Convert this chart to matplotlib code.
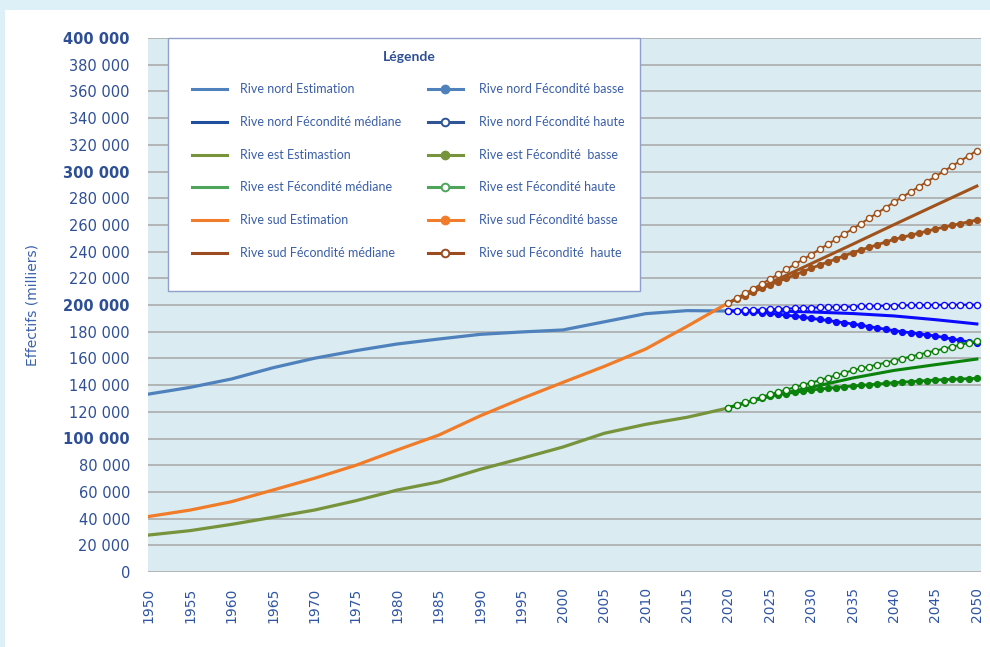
import numpy as np
import matplotlib.pyplot as plt
from matplotlib.lines import Line2D
from matplotlib.patches import Rectangle

# estimations (milliers), every 5 years
years_est = [1950, 1955, 1960, 1965, 1970, 1975, 1980, 1985, 1990, 1995, 2000, 2005, 2010, 2015, 2020]
nord_est = [133.3, 138.3, 144.6, 153.0, 160.1, 165.8, 170.8, 174.5, 178.0, 179.8, 181.3, 187.4, 193.5, 195.8, 195.5]
est_est = [27.7, 31.0, 35.7, 41.0, 46.4, 53.4, 61.4, 67.5, 76.9, 85.1, 93.6, 103.9, 110.6, 115.9, 122.9]
sud_est = [41.6, 46.4, 52.7, 61.4, 70.2, 79.9, 91.4, 102.5, 116.9, 129.8, 142.0, 154.0, 167.0, 184.0, 201.7]

# projections, median scenario (lines only)
years_med = [2020, 2025, 2030, 2035, 2040, 2045, 2050]
nord_med = [195.5, 195.6, 194.8, 193.6, 191.8, 189.0, 185.8]
est_med = [123.1, 131.8, 138.3, 145.3, 151.0, 155.3, 159.5]
sud_med = [201.7, 216.5, 231.0, 245.5, 260.2, 274.7, 289.1]

# projections, low / high fertility (yearly markers)
years_proj = list(range(2020, 2051))
nord_basse = [195.5, 195.3, 195.0, 194.7, 194.3, 193.8, 193.1, 192.4, 191.6, 190.8, 190.0,
              189.2, 188.4, 187.5, 186.7, 185.8, 184.8, 183.8, 182.8, 181.8, 180.8,
              180.0, 179.2, 178.4, 177.6, 176.8, 175.7, 174.6, 173.5, 172.4, 171.3]
nord_haute = [195.5, 195.8, 196.0, 196.3, 196.5, 196.8, 197.0, 197.3, 197.5, 197.8, 198.0,
              198.2, 198.3, 198.5, 198.6, 198.8, 199.0, 199.1, 199.3, 199.4, 199.6,
              199.7, 199.8, 199.9, 200.0, 200.1, 200.1, 200.2, 200.2, 200.2, 200.2]
est_basse = [123.1, 125.0, 126.8, 128.5, 130.1, 131.5, 132.6, 133.6, 134.6, 135.5, 136.3,
             137.0, 137.6, 138.2, 138.8, 139.3, 139.8, 140.3, 140.8, 141.3, 141.8,
             142.2, 142.6, 143.0, 143.4, 143.8, 144.1, 144.3, 144.6, 144.8, 145.1]
est_haute = [123.1, 125.1, 127.1, 129.1, 131.1, 133.1, 134.8, 136.6, 138.3, 140.1, 141.8,
             143.6, 145.5, 147.3, 149.2, 151.0, 152.5, 153.9, 155.4, 156.8, 158.3,
             159.8, 161.3, 162.8, 164.3, 165.8, 167.2, 168.7, 170.1, 171.6, 173.0]
sud_basse = [201.7, 204.4, 207.1, 209.7, 212.4, 215.0, 217.5, 220.0, 222.5, 225.0, 227.5,
             229.9, 232.2, 234.6, 236.9, 239.2, 241.2, 243.2, 245.2, 247.2, 249.2,
             250.7, 252.3, 253.8, 255.4, 256.9, 258.3, 259.6, 261.0, 262.3, 263.7]
sud_haute = [201.7, 205.2, 208.7, 212.2, 215.8, 219.3, 223.0, 226.7, 230.4, 234.1, 237.8,
             241.6, 245.5, 249.3, 253.2, 257.0, 261.0, 265.0, 269.0, 273.0, 277.0,
             280.9, 284.7, 288.6, 292.4, 296.3, 300.2, 304.0, 307.9, 311.7, 315.6]

labels_left = ['Rive nord Estimation', 'Rive nord Fécondité médiane', 'Rive est Estimastion',
               'Rive est Fécondité médiane', 'Rive sud Estimation', 'Rive sud Fécondité médiane']
labels_right = ['Rive nord Fécondité basse', 'Rive nord Fécondité haute', 'Rive est Fécondité  basse',
                'Rive est Fécondité haute', 'Rive sud Fécondité basse', 'Rive sud Fécondité  haute']
colors_left = ['#4f81bd', '#1f4e9c', '#77933c', '#4ea45a', '#f07c2c', '#9c4a1f']
colors_right = ['#4f81bd', '#2f5597', '#77933c', '#4ea45a', '#f07c2c', '#9c4a1f']

c_nord, c_est, c_sud = '#4f81bd', '#77933c', '#f07c2a'
c_nord_p, c_est_p, c_sud_p = '#0a0aff', '#0b820b', '#a0521c'
txt_blue = '#2e4f96'

fig = plt.figure(figsize=(9.9, 6.47), dpi=100, facecolor='#ddf0f8')
fig.add_artist(Rectangle((5 / 990, 0), 1, 637 / 647, transform=fig.transFigure,
                         facecolor='white', edgecolor='none', zorder=-1))
ax = fig.add_axes([148 / 990, 1 - 572 / 647, 833 / 990, 534 / 647])
ax.set_facecolor('#daebf1')

k = 1000
ax.plot(years_est, np.array(nord_est) * k, color=c_nord, lw=2.3, zorder=3)
ax.plot(years_est, np.array(est_est) * k, color=c_est, lw=2.3, zorder=3)
ax.plot(years_est, np.array(sud_est) * k, color=c_sud, lw=2.3, zorder=3)

ax.plot(years_med, np.array(nord_med) * k, color=c_nord_p, lw=2.2, zorder=4)
ax.plot(years_med, np.array(est_med) * k, color=c_est_p, lw=2.2, zorder=4)
ax.plot(years_med, np.array(sud_med) * k, color=c_sud_p, lw=2.2, zorder=4)

for vals, col in [(nord_basse, c_nord_p), (est_basse, c_est_p), (sud_basse, c_sud_p)]:
    ax.plot(years_proj, np.array(vals) * k, color=col, lw=2.0, marker='o', ms=4.2,
            mfc=col, mec=col, zorder=5)
for vals, col in [(nord_haute, c_nord_p), (est_haute, c_est_p), (sud_haute, c_sud_p)]:
    ax.plot(years_proj, np.array(vals) * k, color=col, lw=1.5, marker='o', ms=4.4,
            mfc='white', mec=col, mew=1.0, zorder=5)

ax.set_xlim(1949.9, 2050.5)
ax.set_ylim(0, 400000)
ax.set_xticks(list(range(1950, 2051, 5)))
ax.set_yticks(list(range(0, 400001, 20000)))
ax.set_yticklabels([f'{v:,}'.replace(',', ' ') for v in range(0, 400001, 20000)])
for lab, v in zip(ax.get_yticklabels(), range(0, 400001, 20000)):
    if v > 0 and v % 100000 == 0:
        lab.set_fontweight('bold')
ax.tick_params(axis='y', length=0, pad=13, labelsize=10.5, labelcolor=txt_blue)
ax.tick_params(axis='x', length=0, pad=11, labelsize=10, labelcolor='#2f55a4', labelrotation=90)
ax.grid(axis='y', color='#a6a6a6', lw=1.1, zorder=1)
ax.set_axisbelow(True)
for s in ax.spines.values():
    s.set_visible(False)

fig.text(32 / 990, 1 - 305 / 647, 'Effectifs (milliers)', rotation=90, ha='center', va='center',
         fontsize=10, color='#3a62ad')


# legend box, drawn by hand in pixel positions of the axes
def px(x, y):
    return (x - 148) / 833, (572 - y) / 534


ax.add_patch(Rectangle(px(168, 291), 472 / 833, 253 / 534, transform=ax.transAxes,
                       facecolor='white', edgecolor='#8fa0cc', lw=1, zorder=6, clip_on=False))
ax.text(*px(409, 57), 'Légende', transform=ax.transAxes, ha='center', va='center',
        family='Lato', fontsize=10, fontweight='bold', color=txt_blue, zorder=7)
rows = [89, 122, 155, 187, 220, 253]
for i, y in enumerate(rows):
    (x0, yy), (x1, _) = px(192, y), px(227, y)
    ax.add_line(Line2D([x0, x1], [yy, yy], transform=ax.transAxes, color=colors_left[i],
                       lw=2.2, zorder=7))
    ax.text(*px(240, y), labels_left[i], transform=ax.transAxes, ha='left', va='center',
            family='Lato', fontsize=9, color='#3a5ea8', zorder=7)
    (x0, yy), (x1, _) = px(428, y), px(463, y)
    xm = px(445, y)[0]
    ax.add_line(Line2D([x0, x1], [yy, yy], transform=ax.transAxes, color=colors_right[i],
                       lw=2.2, zorder=7))
    if i % 2 == 0:
        ax.add_line(Line2D([xm], [yy], transform=ax.transAxes, marker='o', ms=6,
                           mfc=colors_right[i], mec=colors_right[i], zorder=8))
    else:
        ax.add_line(Line2D([xm], [yy], transform=ax.transAxes, marker='o', ms=5.5,
                           mfc='white', mec=colors_right[i], mew=1.4, zorder=8))
    ax.text(*px(479, y), labels_right[i], transform=ax.transAxes, ha='left', va='center',
            family='Lato', fontsize=9, color='#3a5ea8', zorder=7)

fig.savefig('out.png', dpi=100, facecolor=fig.get_facecolor())
